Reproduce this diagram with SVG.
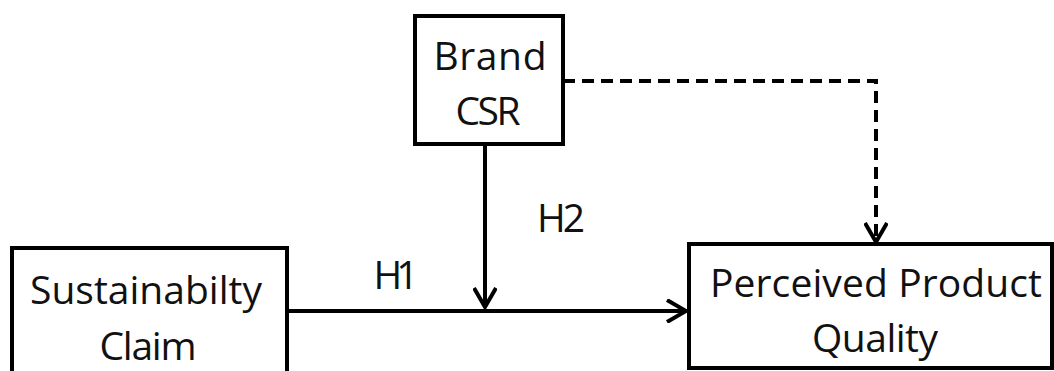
<svg xmlns="http://www.w3.org/2000/svg" width="1054" height="371" viewBox="0 0 1054 371">
<style>
.box{fill:#fff;stroke:#000;stroke-width:4}
.t{font-family:"Open Sans","Liberation Sans",sans-serif;font-size:39px;font-weight:500;fill:#111;text-anchor:middle}
.ln{fill:none;stroke:#000;stroke-width:4}
.dash{stroke-dasharray:12 7}
</style>
<defs>
<marker id="arr" viewBox="0 0 24 24" markerUnits="userSpaceOnUse" markerWidth="24" markerHeight="24" refX="21" refY="12" orient="auto">
<path d="M2,1 L21,12 L2,23" fill="none" stroke="#000" stroke-width="4" stroke-linejoin="miter"/>
</marker>
</defs>
<rect width="1054" height="371" fill="#fff"/>
<g id="connectors">
<path class="ln" d="M287,311 H686" marker-end="url(#arr)"/>
<path class="ln" d="M485,144 V307" marker-end="url(#arr)"/>
<path class="ln dash" d="M563,81 H876 V242" marker-end="url(#arr)"/>
<text class="t" x="396" y="289" textLength="45">H1</text>
<text class="t" x="561" y="232" textLength="48">H2</text>
</g>
<g id="brand-csr">
<rect class="box" x="415" y="16" width="148" height="128"/>
<text class="t" x="490" y="70" textLength="113">Brand</text>
<text class="t" x="488" y="125" textLength="65">CSR</text>
</g>
<g id="sustainability-claim">
<rect class="box" x="12" y="248" width="275" height="125"/>
<text class="t" x="146" y="304" textLength="232">Sustainabilty</text>
<text class="t" x="148" y="360" textLength="97">Claim</text>
</g>
<g id="perceived-product-quality">
<rect class="box" x="689" y="244" width="363" height="124"/>
<text class="t" x="876" y="297" textLength="332">Perceived Product</text>
<text class="t" x="875" y="352" textLength="126">Quality</text>
</g>
</svg>
